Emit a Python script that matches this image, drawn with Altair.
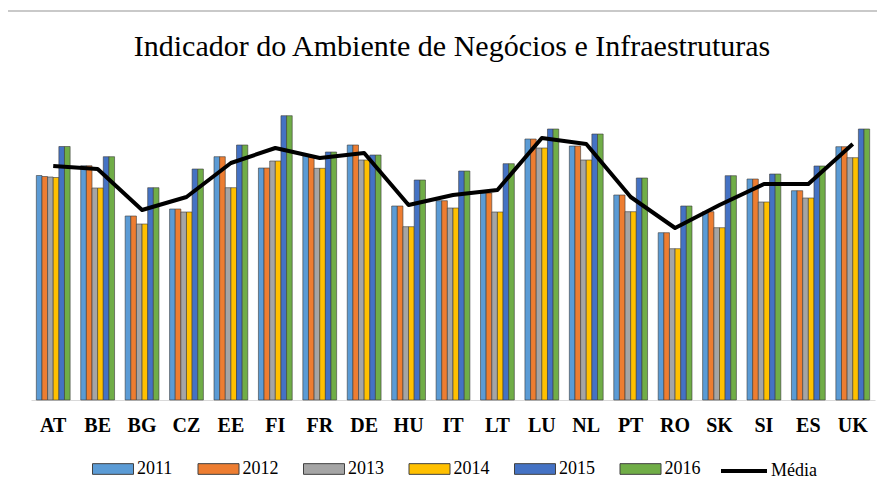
import altair as alt
import pandas as pd

countries = ["AT", "BE", "BG", "CZ", "EE", "FI", "FR", "DE", "HU", "IT",
             "LT", "LU", "NL", "PT", "RO", "SK", "SI", "ES", "UK"]
years = ["2011", "2012", "2013", "2014", "2015", "2016"]

v2011 = [224.5, 234.3, 184, 191, 243.3, 232, 245, 255, 194, 199.3,
         207, 261, 254, 205, 167.3, 188.3, 221, 209.3, 253.3]
v2012 = [223.5, 234.3, 184, 191, 243.3, 232, 243, 255, 194, 199.3,
         207, 261, 254, 205, 167.3, 188.3, 221, 209.3, 253.3]
v2013 = [223, 212, 176, 188, 212.3, 239, 231.7, 240, 173.3, 192,
         188, 252, 240, 188.3, 151.3, 172.3, 198, 202, 242.3]
v2014 = [222.5, 212, 176, 188, 212.3, 239, 231.7, 240, 173.3, 192,
         188, 252, 240, 188.3, 151.3, 172.3, 198, 202, 242.3]
v2015 = [253.5, 243.3, 212.3, 231, 255, 284.3, 248, 245, 220, 229,
         236.3, 271, 266, 222, 194, 224.3, 226, 234, 271]
v2016 = [253.5, 243.3, 212.3, 231, 255, 284.3, 248, 245, 220, 229,
         236.3, 271, 266, 222, 194, 224.3, 226, 234, 271]
media = [234, 231, 190, 203, 237, 252, 242, 247, 195, 205,
         210, 262, 256, 203, 172, 195, 216, 216, 256]

colors = ["#5B9BD5", "#ED7D31", "#A5A5A5", "#FFC000", "#4472C4", "#70AD47"]
media_label = "Média"
title_text = "Indicador do Ambiente de Negócios e Infraestruturas"
FONT = "'Liberation Serif', 'Times New Roman', Times, serif"

rows = []
for yr, vals in zip(years, [v2011, v2012, v2013, v2014, v2015, v2016]):
    for c, v in zip(countries, vals):
        rows.append({"pais": c, "ano": yr, "valor": v})
bars_df = pd.DataFrame(rows)
line_df = pd.DataFrame({"pais": countries, "valor": media, "serie": [media_label] * len(countries)})
title_df = pd.DataFrame({"t": [title_text]})

y_scale = alt.Scale(domain=[0, 300])

x_enc = alt.X(
    "pais:N", sort=countries,
    scale=alt.Scale(paddingInner=0.239, paddingOuter=0.12),
    axis=alt.Axis(title=None, labelAngle=0, labelFont=FONT, labelFontSize=20,
                  labelFontWeight="bold", labelColor="black", labelPadding=15,
                  ticks=False, domainColor="#d9d9d9", domainWidth=1, grid=False),
)

bars = alt.Chart(bars_df).mark_bar(stroke="#3a3a3a", strokeWidth=0.6).encode(
    x=x_enc,
    xOffset=alt.XOffset("ano:N", sort=years),
    y=alt.Y("valor:Q", scale=y_scale, axis=None),
    fill=alt.Fill(
        "ano:N", sort=years,
        scale=alt.Scale(domain=years, range=colors),
        legend=alt.Legend(
            title=None, orient="none", legendX=61, legendY=348,
            direction="horizontal", symbolType="M-1,-0.26H1V0.26H-1Z",
            symbolSize=1681, symbolStrokeColor="#404040", symbolStrokeWidth=1,
            labelFont=FONT, labelFontSize=18, labelColor="black",
            labelOffset=3, columnPadding=22.5, padding=0,
        ),
    ),
)

line = alt.Chart(line_df).mark_line(strokeWidth=4, strokeJoin="round").encode(
    x=alt.X("pais:N", sort=countries),
    y=alt.Y("valor:Q", scale=y_scale, axis=None),
    stroke=alt.Stroke(
        "serie:N",
        scale=alt.Scale(domain=[media_label], range=["black"]),
        legend=alt.Legend(
            title=None, orient="none", legendX=688, legendY=346,
            symbolType="stroke", symbolSize=2116, symbolStrokeWidth=4,
            labelFont=FONT, labelFontSize=18, labelColor="black",
            labelOffset=2, padding=0,
        ),
    ),
)

title = alt.Chart(title_df).mark_text(
    font=FONT, fontSize=30, color="black", align="center", baseline="alphabetic"
).encode(text="t:N", x=alt.value(421), y=alt.value(-44))

border = alt.Chart(alt.Data(values=[{"k": 1}])).mark_rect(
    fillOpacity=0, stroke="#b8b8b8", strokeWidth=1.4
).encode(
    x=alt.value(-29.8), x2=alt.value(900), y=alt.value(-89), y2=alt.value(600)
)

chart = alt.layer(border, bars, line, title).properties(
    width=844, height=300,
    background="white",
    autosize=alt.AutoSizeParams(type="none"),
    padding={"left": 23, "top": 92, "right": 2, "bottom": 88},
).configure_view(strokeWidth=0)

chart.save("out.html", embed_options={"renderer": "svg", "actions": False})
